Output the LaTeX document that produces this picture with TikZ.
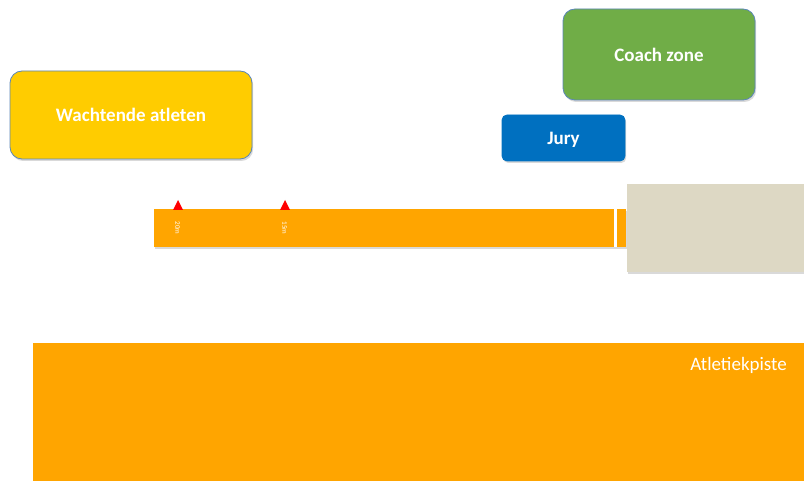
\documentclass[tikz,border=0pt]{standalone}
\usepackage{fontspec}
\setmainfont{Carlito}
\usetikzlibrary{shadows}
\definecolor{wait}{HTML}{FFCC00}
\definecolor{coach}{HTML}{70AD47}
\definecolor{jury}{HTML}{0070C0}
\definecolor{track}{HTML}{FFA500}
\definecolor{pit}{HTML}{DDD8C4}
\definecolor{edge}{HTML}{5B86B8}
\begin{document}
\begin{tikzpicture}[x=1pt,y=-1pt,
  softshadow/.style={drop shadow={shadow xshift=1.2pt,shadow yshift=-2pt,opacity=0.25,fill=black!60}},
  zonebox/.style={rounded corners=12pt,draw=edge,line width=0.8pt,softshadow,
    text=white,font=\bfseries\fontsize{19}{22}\selectfont},
  marker/.style={fill=red,draw=none},
  distlabel/.style={text=white,font=\fontsize{7}{8}\selectfont,rotate=-90,inner sep=0pt}]
\useasboundingbox (0,0) rectangle (804,481);
% main track
\path[fill=track] (33,343) rectangle (806,483);
\node[anchor=north east,text=white,font=\fontsize{19}{22}\selectfont,inner sep=0pt] (piste) at (787,357) {Atletiekpiste};
% run-up lane and landing pit
\path[fill=track,softshadow] (154,209) rectangle (626,247);
\path[fill=white] (614,209) rectangle (616.5,247);
\path[fill=pit,softshadow] (627,184) rectangle (806,272);
% distance markers
\path[marker] (173,210) -- (178,200) -- (183,210) -- cycle;
\path[marker] (280,210) -- (285,200) -- (290,210) -- cycle;
\node[distlabel] (m20) at (177.5,228) {20m};
\node[distlabel] (m15) at (284.5,228) {15m};
% zones
\node[zonebox,fill=wait,minimum width=242pt,minimum height=88pt] (wacht) at (131,115) {Wachtende atleten};
\node[zonebox,fill=coach,minimum width=192pt,minimum height=91pt] (coachz) at (659,54.5) {Coach zone};
\node[zonebox,fill=jury,draw=jury,rounded corners=5pt,minimum width=123pt,minimum height=46pt,text depth=0pt] (juryz) at (563.5,138) {Jury};
\end{tikzpicture}
\end{document}
